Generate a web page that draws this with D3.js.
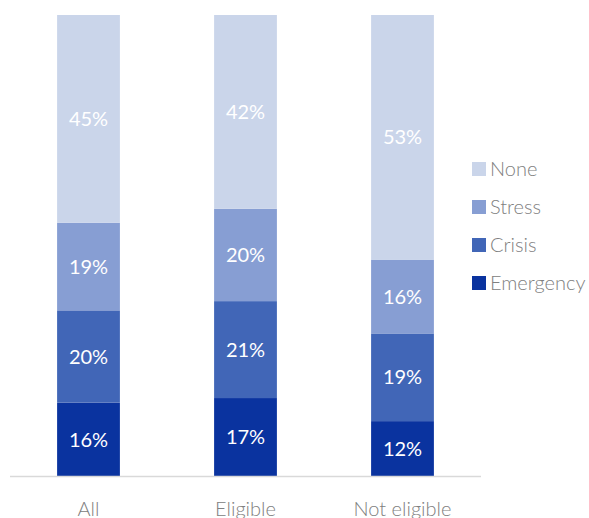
<!DOCTYPE html>
<html><head><meta charset="utf-8">
<script src="https://cdn.jsdelivr.net/npm/d3@7"></script>
<style>body{margin:0;background:#fff;}svg{display:block;}</style>
</head><body>
<svg id="c" width="589" height="518"></svg>
<script>
const categories = ["All", "Eligible", "Not eligible"];
const seriesNames = ["Emergency", "Crisis", "Stress", "None"];
const emergency = [16, 17, 12];
const crisis = [20, 21, 19];
const stress = [19, 20, 16];
const none = [45, 42, 53];
const colors = ["#0a339f", "#4166b7", "#879ed3", "#cad5ea"];

const seriesVals = [emergency, crisis, stress, none];
const data = categories.map((c, i) => {
  const o = {cat: c};
  seriesNames.forEach((s, j) => o[s] = seriesVals[j][i]);
  return o;
});
const stack = d3.stack().keys(seriesNames)(data);

const svg = d3.select("#c");
const font = "Lato, 'Gill Sans', sans-serif";
const x = d3.scaleBand().domain(categories).range([10, 481]).paddingInner(0.6).paddingOuter(0.3);
const y = d3.scaleLinear().domain([0, 100]).range([476.5, 15]);
const color = d3.scaleOrdinal().domain(seriesNames).range(colors);

const g = svg.append("g");
stack.forEach(layer => {
  const lg = g.append("g");
  lg.selectAll("rect").data(layer).join("rect")
    .attr("x", d => x(d.data.cat))
    .attr("width", x.bandwidth())
    .attr("y", d => y(d[1]))
    .attr("height", d => y(d[0]) - y(d[1]))
    .attr("fill", color(layer.key));
  lg.selectAll("text").data(layer).join("text")
    .attr("x", d => x(d.data.cat) + x.bandwidth() / 2)
    .attr("y", d => (y(d[0]) + y(d[1])) / 2)
    .attr("dy", "0.36em")
    .attr("text-anchor", "middle")
    .attr("fill", "#fff")
    .attr("font-family", font)
    .attr("font-size", 20)
    .text(d => (d[1] - d[0]) + "%");
});

// axis
const axis = svg.append("g").attr("transform", "translate(0,476.5)")
  .call(d3.axisBottom(x).tickSize(0).tickPadding(25));
axis.select(".domain").attr("stroke", "#d9d9d9").attr("stroke-width", 1.5).attr("d", "M10,0H481");
axis.selectAll("text").attr("font-family", font).attr("font-size", 20).attr("font-weight", 300).attr("fill", "#808080");

// legend
const legendOrder = ["None", "Stress", "Crisis", "Emergency"];
const lg = svg.append("g");
legendOrder.forEach((s, i) => {
  const yy = 169 + i * 38;
  lg.append("rect").attr("x", 472).attr("y", yy - 7).attr("width", 14).attr("height", 14).attr("fill", color(s));
  lg.append("text").attr("x", 490).attr("y", yy).attr("dy", "0.36em")
    .attr("font-family", font).attr("font-size", 20).attr("font-weight", 300).attr("fill", "#808080").text(s);
});
</script>
</body></html>
